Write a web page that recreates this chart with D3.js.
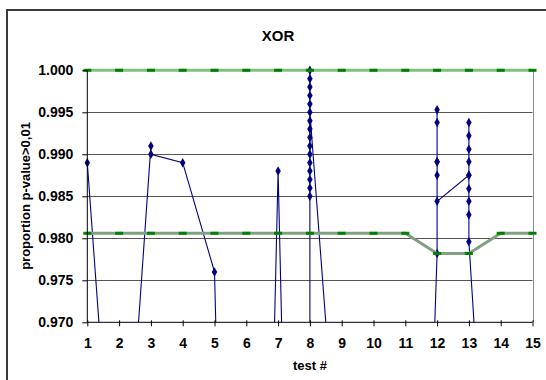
<!DOCTYPE html>
<html>
<head>
<meta charset="utf-8">
<script src="https://cdn.jsdelivr.net/npm/d3@7"></script>
<style>
  body { margin: 0; background: #fff; }
  svg { display: block; font-family: "Liberation Sans", Arial, sans-serif; font-weight: bold; }
</style>
</head>
<body>
<div id="chart"></div>
<script>
// test numbers on the x axis
const tests = [1, 2, 3, 4, 5, 6, 7, 8, 9, 10, 11, 12, 13, 14, 15];
const yTicks = [0.970, 0.975, 0.980, 0.985, 0.990, 0.995, 1.000];

// proportion of sequences passing, one list per test (sub tests share a test number)
const proportions = [
    [0.989],
    [0.937],
    [0.991, 0.990],
    [0.989],
    [0.976],
    [0.826],
    [0.988],
    [0.824, 0.990, 0.993, 0.986, 1.000, 0.985, 0.997, 0.992, 0.999, 0.988, 0.994, 0.987, 0.998, 0.991, 0.989, 0.996, 0.995],
    [0.945],
    [0.910],
    [0.864],
    [0.9782, 0.9953, 0.9891, 0.9938, 0.9875, 0.9891, 0.9844],
    [0.9875, 0.9938, 0.9828, 0.9922, 0.9859, 0.9906, 0.9844, 0.9891, 0.9875, 0.9796],
    [0.9196],
    [0.905]
];

// acceptance range
const upperBound = [1.000, 1.000, 1.000, 1.000, 1.000, 1.000, 1.000, 1.000, 1.000, 1.000, 1.000, 1.000, 1.000, 1.000, 1.000];
const lowerBound = [0.9806, 0.9806, 0.9806, 0.9806, 0.9806, 0.9806, 0.9806, 0.9806, 0.9806, 0.9806, 0.9806, 0.9782, 0.9782, 0.9806, 0.9806];

const W = 546, H = 380;

const svg = d3.select("#chart").append("svg")
    .attr("width", W)
    .attr("height", H);

svg.append("rect")
    .attr("width", W).attr("height", H)
    .attr("fill", "#fff");

// chart frame (runs off the right and bottom edge)
svg.append("rect")
    .attr("x", 7).attr("y", 10)
    .attr("width", 600).attr("height", 420)
    .attr("fill", "none")
    .attr("stroke", "#3a3a3a")
    .attr("stroke-width", 2);

const x = d3.scaleLinear().domain([1, 15]).range([87.3, 532.5]);
const y = d3.scaleLinear().domain([0.970, 1.000]).range([322.3, 70.3]);

// grid
svg.append("g")
    .selectAll("line")
    .data(yTicks.slice(1))
    .join("line")
    .attr("x1", x(1)).attr("x2", x(15))
    .attr("y1", d => Math.round(y(d)) + 0.5)
    .attr("y2", d => Math.round(y(d)) + 0.5)
    .attr("stroke", "#555")
    .attr("stroke-width", 1);

// right edge of plot area
svg.append("line")
    .attr("x1", Math.round(x(15)) + 0.5).attr("x2", Math.round(x(15)) + 0.5)
    .attr("y1", y(1.000)).attr("y2", y(0.970))
    .attr("stroke", "#8c8c8c");

svg.append("defs").append("clipPath")
    .attr("id", "plotClip")
    .append("rect")
    .attr("x", 0).attr("y", 0)
    .attr("width", W).attr("height", y(0.970));

// flatten measurements into points
let points = [];
proportions.forEach(function(vals, i) {
    vals.forEach(function(v) {
        points.push({test: tests[i], value: v});
    });
});

const line = d3.line()
    .x(d => x(d.test))
    .y(d => y(d.value));

const blue = svg.append("g").attr("clip-path", "url(#plotClip)");

blue.append("path")
    .datum(points)
    .attr("d", line)
    .attr("fill", "none")
    .attr("stroke", "#000080")
    .attr("stroke-width", 1.1);

blue.selectAll(".pt")
    .data(points.filter(d => d.value >= 0.970))
    .join("path")
    .attr("class", "pt")
    .attr("transform", d => "translate(" + x(d.test) + "," + y(d.value) + ")")
    .attr("d", d3.symbol().type(d3.symbolDiamond).size(26))
    .attr("fill", "#000080");

// bound lines
function drawBound(values, colour) {
    let data = values.map((v, i) => ({test: tests[i], value: v}));
    let g = svg.append("g");
    g.append("path")
        .datum(data)
        .attr("d", line)
        .attr("fill", "none")
        .attr("stroke", colour)
        .attr("stroke-width", 3);
    g.selectAll("rect")
        .data(data)
        .join("rect")
        .attr("x", d => x(d.test) - 4)
        .attr("y", d => y(d.value) - 1.5)
        .attr("width", 8)
        .attr("height", 3)
        .attr("fill", "#008000");
}

drawBound(lowerBound, "#80a080");
drawBound(upperBound, "#80c080");

// axes
const yAxis = svg.append("g")
    .attr("transform", "translate(" + x(1) + ",0)")
    .call(d3.axisLeft(y)
        .tickValues(yTicks)
        .tickFormat(d3.format(".3f"))
        .tickSize(5)
        .tickPadding(9));

const xAxis = svg.append("g")
    .attr("transform", "translate(0," + y(0.970) + ")")
    .call(d3.axisBottom(x)
        .tickValues(tests)
        .tickFormat(d3.format("d"))
        .tickSize(4)
        .tickPadding(12));

xAxis.selectAll(".tick line").attr("y1", -2);

[yAxis, xAxis].forEach(function(a) {
    a.select(".domain").attr("stroke", "#000");
    a.selectAll(".tick line").attr("stroke", "#000");
    a.selectAll("text")
        .attr("fill", "#000")
        .style("font-family", "'Liberation Sans', Arial, sans-serif")
        .style("font-weight", "bold")
        .style("font-size", "14px");
});
yAxis.select(".domain").attr("d", "M0," + y(1.000) + "V" + y(0.970));
xAxis.select(".domain").attr("d", "M" + x(1) + ",0H" + x(15));

// titles
svg.append("text")
    .attr("x", 278).attr("y", 40.5)
    .attr("text-anchor", "middle")
    .style("font-size", "15px")
    .text("XOR");

svg.append("text")
    .attr("transform", "translate(29.5,196) rotate(-90)")
    .attr("text-anchor", "middle")
    .style("font-size", "13px")
    .text("proportion p-value>0,01");

svg.append("text")
    .attr("x", 310).attr("y", 370)
    .attr("text-anchor", "middle")
    .style("font-size", "13px")
    .text("test #");
</script>
</body>
</html>
